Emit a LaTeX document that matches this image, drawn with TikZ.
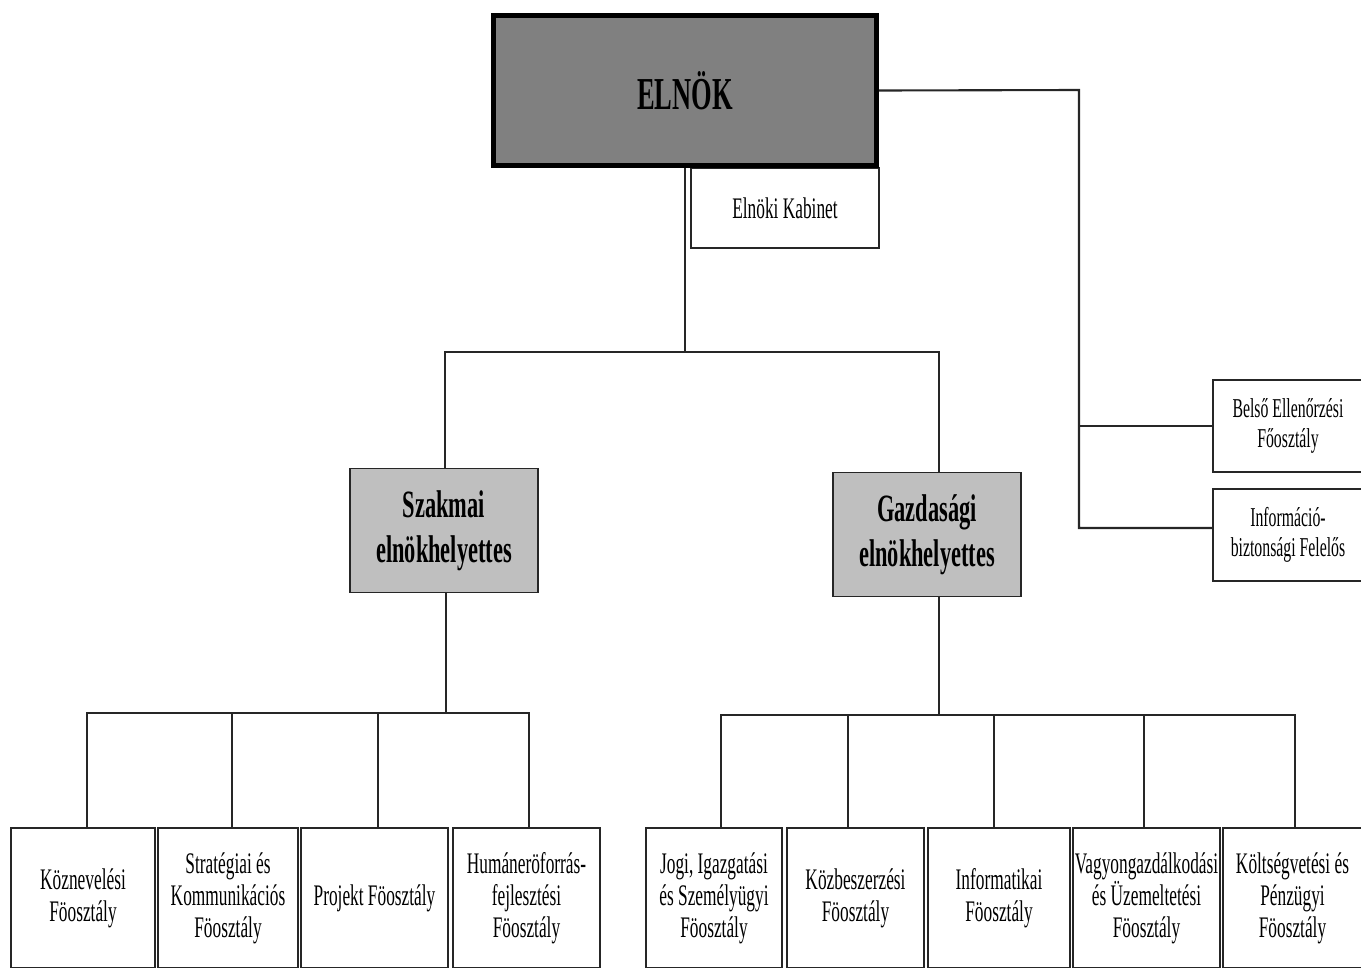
\documentclass[tikz,border=0pt]{standalone}
\usepackage{fontspec}
\setmainfont{Liberation Serif}[FakeStretch=0.58]
\usetikzlibrary{calc}

\begin{document}
\begin{tikzpicture}[
  x=0.02cm, y=-0.02cm,
  boss/.style={rectangle, draw=black, line width=2.6pt, fill=black!50, minimum width=7.66cm, minimum height=3cm, font=\fontsize{26}{30}\selectfont\bfseries},
  cab/.style={rectangle, draw=black!85, line width=1.1pt, fill=white, minimum width=3.76cm, minimum height=1.6cm, font=\fontsize{17}{20}\selectfont},
  vice/.style={rectangle, draw=black!85, line width=1.1pt, fill=black!25, minimum width=3.76cm, minimum height=2.48cm, align=center, font=\fontsize{22}{25.5}\selectfont\bfseries},
  aux/.style={rectangle, draw=black!85, line width=1.1pt, fill=white, minimum width=3cm, minimum height=1.84cm, align=center, font=\fontsize{15.5}{17}\selectfont},
  dept/.style={rectangle, draw=black!85, line width=1.1pt, fill=white, minimum height=2.8cm, inner sep=0pt, align=center, font=\fontsize{17}{18.3}\selectfont},
  ln/.style={draw=black!85, line width=1.2pt},
]
\useasboundingbox (0,0) rectangle (1361,967);
\clip (0,0) rectangle (1361,967);

\node[cab] (kabinet) at (785,208) {Elnöki Kabinet};
\node[boss] (elnok) at (685,90.5) {ELNÖK};

\node[vice] (szak) at (444,530.5) {Szakmai\\elnökhelyettes};
\node[vice] (gazd) at (927,534.5) {Gazdasági\\elnökhelyettes};

\node[aux] (belso) at (1288,426) {Belső Ellenőrzési\\Főosztály};
\node[aux] (info)  at (1288,535) {Információ-\\biztonsági Felelős};

\node[dept, minimum width=2.88cm] (koz)   at (83,898)    {Köznevelési\\Föosztály};
\node[dept, minimum width=2.8cm]  (strat) at (228,898)   {Stratégiai és\\Kommunikációs\\Föosztály};
\node[dept, minimum width=2.94cm] (proj)  at (374.5,898) {Projekt Föosztály};
\node[dept, minimum width=2.94cm] (human) at (526.5,898) {Humáneröforrás-\\fejlesztési\\Föosztály};

\node[dept, minimum width=2.72cm] (jogi)  at (714,898)    {Jogi, Igazgatási\\és Személyügyi\\Föosztály};
\node[dept, minimum width=2.74cm] (kozb)  at (855.5,898)  {Közbeszerzési\\Föosztály};
\node[dept, minimum width=2.84cm] (infor) at (999,898)    {Informatikai\\Föosztály};
\node[dept, minimum width=2.94cm] (vagy)  at (1146.5,898) {Vagyongazdálkodási\\és Üzemeltetési\\Föosztály};
\node[dept, minimum width=2.8cm]  (kolt)  at (1292.5,898) {Költségvetési és\\Pénzügyi\\Föosztály};

\coordinate (hub)     at (685,352);
\coordinate (rcorner) at (1079,90);
\coordinate (shub)    at (446,713);
\coordinate (ghub)    at (939,715);

\draw[ln] (elnok.south) -- (hub);
\draw[ln] ($(szak.north)+(1,0)$) |- (hub);
\draw[ln] ($(gazd.north)+(12,0)$) |- (hub);

\draw[ln] (elnok.east) -- (rcorner) |- ($(info.west)+(0,-7)$);
\draw[ln] (belso.west) -- (belso.west -| rcorner);

\draw[ln] ($(szak.south)+(2,0)$) -- (shub);
\draw[ln] ($(gazd.south)+(12,0)$) -- (ghub);

\foreach \d/\dx in {koz/4,strat/4,proj/3.5,human/2.5}
  \draw[ln] ($(\d.north)+(\dx,0)$) |- (shub);
\foreach \d/\dx in {jogi/7,kozb/-7.5,infor/-5,vagy/-2.5,kolt/2.5}
  \draw[ln] ($(\d.north)+(\dx,0)$) |- (ghub);
\end{tikzpicture}
\end{document}
